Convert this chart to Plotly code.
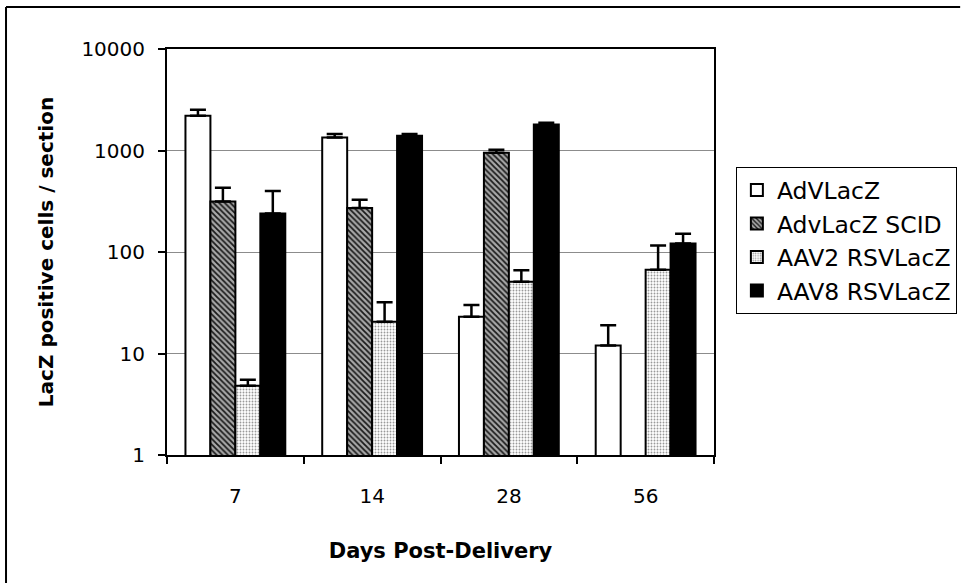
import plotly.graph_objects as go

days = ["7", "14", "28", "56"]
series_names = ["AdVLacZ", "AdvLacZ SCID", "AAV2 RSVLacZ", "AAV8 RSVLacZ"]

adv = [2200, 1340, 23, 12]
adv_err = [320, 110, 7, 7]
scid = [315, 272, 950, None]
scid_err = [115, 55, 70, 0]
aav2 = [4.8, 20.5, 51, 67]
aav2_err = [0.7, 11.5, 15, 49]
aav8 = [240, 1400, 1800, 121]
aav8_err = [160, 50, 80, 30]

y_ticks = [1, 10, 100, 1000, 10000]
y_ticktext = ["1", "10", "100", "1000", "10000"]

FONT = "DejaVu Sans, Arial, sans-serif"

styles = [
    dict(color="white"),
    dict(color="#999999", pattern=dict(shape="\\", fgcolor="#1a1a1a", bgcolor="#a8a8a8",
                                        size=4, solidity=0.45, fillmode="replace")),
    dict(color="#dddddd", pattern=dict(shape=".", fgcolor="#999999", bgcolor="white",
                                        size=3, solidity=0.3, fillmode="replace")),
    dict(color="black"),
]
values = [adv, scid, aav2, aav8]
errors = [adv_err, scid_err, aav2_err, aav8_err]

fig = go.Figure()
for i, (name, vals, errs, st) in enumerate(zip(series_names, values, errors, styles)):
    marker = dict(line=dict(color="black", width=2), **st)
    fig.add_trace(go.Bar(
        name=name, x=days, y=vals, marker=marker,
        legendgroup=f"g{i}",
        error_y=dict(type="data", symmetric=False, array=errs,
                     arrayminus=[0] * len(errs), color="black",
                     thickness=2.5, width=8),
    ))

fig.update_layout(
    width=964, height=583,
    paper_bgcolor="white", plot_bgcolor="white",
    margin=dict(l=167, r=250, t=49, b=128, autoexpand=False),
    barmode="group", bargap=0.27, bargroupgap=0,
    font=dict(family=FONT, color="black", size=20),
    showlegend=True,
    legend=dict(x=1.040, y=0.709, xanchor="left", yanchor="top",
                bordercolor="black", borderwidth=1, bgcolor="white",
                font=dict(family=FONT, size=23.5, color="black"),
                traceorder="grouped", tracegroupgap=0,
                itemwidth=30),
    shapes=[
        # outer frame (left and top edges; right/bottom fall outside the picture)
        dict(type="line", xref="paper", yref="paper", x0=-0.2943, x1=-0.2943,
             y0=-0.33, y1=1.1034, line=dict(color="black", width=2), layer="below"),
        dict(type="line", xref="paper", yref="paper", x0=-0.2943, x1=1.45,
             y0=1.1034, y1=1.1034, line=dict(color="black", width=2), layer="below"),
    ],
)

fig.update_xaxes(
    type="category", tickson="boundaries", ticks="outside", ticklen=7,
    tickcolor="black", tickwidth=1.5,
    showline=True, linecolor="black", linewidth=2, mirror=True,
    showgrid=False, ticklabelstandoff=22,
    tickfont=dict(family=FONT, size=20),
    title=dict(text="<b>Days Post-Delivery</b>", standoff=36,
               font=dict(family=FONT, size=21)),
)
fig.update_yaxes(
    type="log", range=[0, 4], tickvals=y_ticks, ticktext=y_ticktext,
    ticks="outside", ticklen=7, tickcolor="black", tickwidth=1.5,
    showline=True, linecolor="black", linewidth=2, mirror=True,
    showgrid=True, gridcolor="#8c8c8c", gridwidth=1,
    ticklabelstandoff=9,
    tickfont=dict(family=FONT, size=20),
    title=dict(text="<b>LacZ positive cells / section</b>", standoff=22,
               font=dict(family=FONT, size=20)),
)

fig.write_html(
    "out.html", config={"displayModeBar": False},
    post_script=("document.documentElement.style.margin='0px';"
                 "document.documentElement.style.overflow='hidden';"
                 "document.body.style.margin='0px';"
                 "document.body.style.overflow='hidden';"))
